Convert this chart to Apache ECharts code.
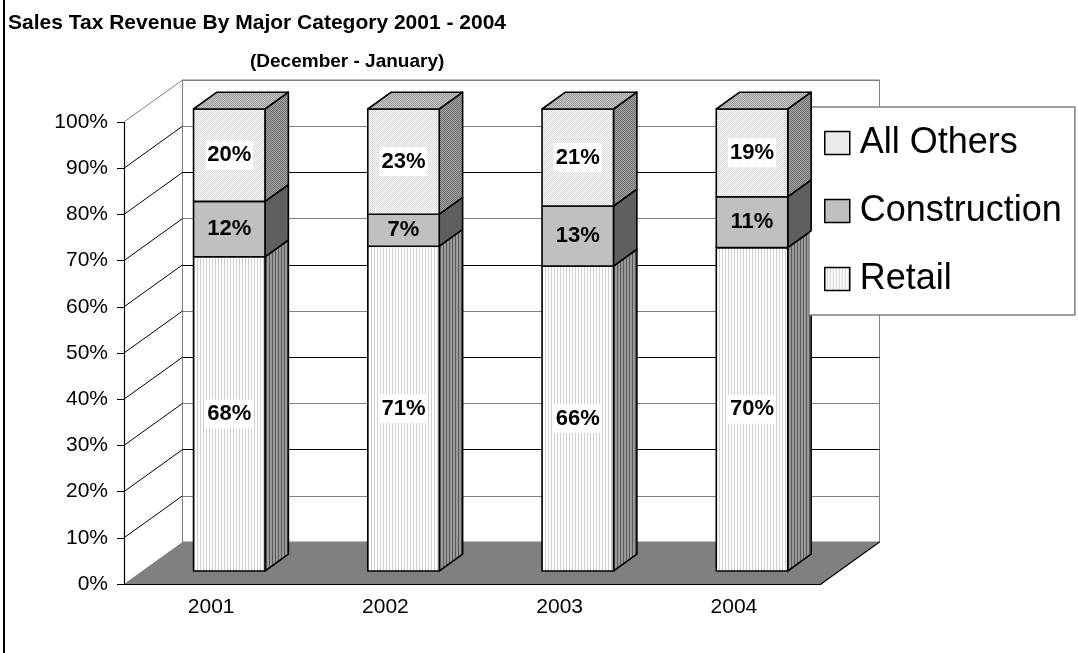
<!DOCTYPE html>
<html>
<head>
<meta charset="utf-8">
<script src="https://cdn.jsdelivr.net/npm/echarts@6.0.0/dist/echarts.min.js"></script>
<style>
html, body { margin: 0; background: #fff; }
#chart { width: 1078px; height: 653px; }
</style>
</head>
<body>
<div id="chart"></div>
<script>
// data
const years = ['2001', '2002', '2003', '2004'];
const retail = [68, 71, 66, 70];
const construction = [12, 7, 13, 11];
const allOthers = [20, 23, 21, 19];
const percentTicks = [0, 10, 20, 30, 40, 50, 60, 70, 80, 90, 100];

// 3d look: how far the back wall sits from the front plane, in px
const DEPTH = [58.5, -42];
const BAR_DEPTH = [0.31, 0.71];
const BAR_WIDTH = 0.41;
const FONT = 'Liberation Sans, Arial, sans-serif';

function pattern(w, h, bg, fg, cells) {
	const cv = document.createElement('canvas');
	cv.width = w;
	cv.height = h;
	const ctx = cv.getContext('2d');
	ctx.fillStyle = bg;
	ctx.fillRect(0, 0, w, h);
	ctx.fillStyle = fg;
	cells.forEach(function (c) { ctx.fillRect(c[0], c[1], c[2], c[3]); });
	return { image: cv, repeat: 'repeat' };
}
const stripes = (bg, fg) => pattern(3, 3, bg, fg, [[2, 0, 1, 3]]);
const dots = (bg, fg) => pattern(2, 2, bg, fg, [[0, 0, 1, 1], [1, 1, 1, 1]]);

const looks = [
	{ front: stripes('#ffffff', '#cfcfcf'), side: stripes('#999999', '#5a5a5a'), labelBg: '#fff' },
	{ front: '#c0c0c0', side: '#5f5f5f', labelBg: null },
	{ front: dots('#ffffff', '#d6d6d6'), side: dots('#a4a4a4', '#6e6e6e'), top: dots('#c8c8c8', '#9a9a9a'), labelBg: '#fff' }
];
const stacks = [retail, construction, allOthers];
const names = ['Retail', 'Construction', 'All Others'];

function barRender(k) {
	return function (params, api) {
		const i = params.dataIndex;
		const total = retail[i] + construction[i] + allOthers[i];
		let start = 0;
		for (let j = 0; j < k; j++) start += stacks[j][i];
		const lo = start / total * 100;
		const hi = (start + stacks[k][i]) / total * 100;
		const p0 = api.coord([i, lo]);
		const p1 = api.coord([i, hi]);
		const half = api.size([1, 0])[0] * BAR_WIDTH / 2;
		const fx = DEPTH[0] * BAR_DEPTH[0], fy = DEPTH[1] * BAR_DEPTH[0];
		const bx = DEPTH[0] * BAR_DEPTH[1], by = DEPTH[1] * BAR_DEPTH[1];
		const L = p0[0] - half + fx, R = p0[0] + half + fx;
		const yb = p0[1] + fy, yt = p1[1] + fy;
		const dx = bx - fx, dy = by - fy;
		const line = { stroke: '#000', lineWidth: 1.6, lineJoin: 'round' };
		const kids = [
			{ type: 'polygon', shape: { points: [[R, yt], [R + dx, yt + dy], [R + dx, yb + dy], [R, yb]] },
				style: Object.assign({ fill: looks[k].side }, line) },
			{ type: 'rect', shape: { x: L, y: yt, width: R - L, height: yb - yt },
				style: Object.assign({ fill: looks[k].front }, line) }
		];
		if (looks[k].top) {
			kids.push({ type: 'polygon', shape: { points: [[L, yt], [R, yt], [R + dx, yt + dy], [L + dx, yt + dy]] },
				style: Object.assign({ fill: looks[k].top }, line) });
		}
		kids.push({
			type: 'text', x: (L + R) / 2, y: (yt + yb) / 2, z2: 10,
			style: {
				text: stacks[k][i] + '%', fill: '#000', fontSize: 22, fontWeight: 'bold', fontFamily: FONT,
				align: 'center', verticalAlign: 'middle',
				backgroundColor: looks[k].labelBg || 'transparent', padding: [4, 2, 3, 2]
			}
		});
		return { type: 'group', children: kids };
	};
}

const chart = echarts.init(document.getElementById('chart'));

const series = [
	{
		// floor
		type: 'custom', name: 'floor', xAxisIndex: 0, yAxisIndex: 0, z: 1, silent: true,
		data: [[0, 0]],
		renderItem: function (params, api) {
			const cs = params.coordSys;
			const y0 = api.coord([0, 0])[1];
			const x0 = cs.x, x1 = cs.x + cs.width;
			return {
				type: 'group', children: [
					{ type: 'polygon', shape: { points: [[x0, y0], [x1, y0], [x1 + DEPTH[0], y0 + DEPTH[1]], [x0 + DEPTH[0], y0 + DEPTH[1]]] },
						style: { fill: '#808080' } },
					{ type: 'line', shape: { x1: x1, y1: y0, x2: x1 + DEPTH[0], y2: y0 + DEPTH[1] },
						style: { stroke: '#000', lineWidth: 1.2 } }
				]
			};
		}
	},
	{
		// side wall lines from the front ticks to the back wall
		type: 'custom', name: 'wall', xAxisIndex: 0, yAxisIndex: 0, z: 1, silent: true,
		data: percentTicks.filter(v => v > 0).map(v => [0, v]),
		renderItem: function (params, api) {
			const v = api.value(1);
			const x = params.coordSys.x;
			const y = api.coord([0, v])[1];
			return {
				type: 'line', shape: { x1: x, y1: y, x2: x + DEPTH[0], y2: y + DEPTH[1] },
				style: { stroke: v === 100 ? '#808080' : '#000', lineWidth: 1 }
			};
		}
	}
];
for (let k = 0; k < 3; k++) {
	series.push({
		type: 'custom', name: names[k], xAxisIndex: 0, yAxisIndex: 0, z: 3 + k,
		itemStyle: { color: looks[k].front, borderColor: '#000', borderWidth: 1.5 },
		data: stacks[k].map((v, i) => [i, v]),
		renderItem: barRender(k)
	});
}

chart.setOption({
	backgroundColor: '#fff',
	animation: false,
	title: [
		{
			text: 'Sales Tax Revenue By Major Category 2001 - 2004', left: 8, top: 11, padding: 0,
			textStyle: { fontSize: 21, fontWeight: 'bold', fontFamily: FONT, color: '#000', lineHeight: 24 }
		},
		{
			text: '(December - January)', left: 250, top: 51, padding: 0,
			textStyle: { fontSize: 19, fontWeight: 'bold', fontFamily: FONT, color: '#000', lineHeight: 22 }
		}
	],
	legend: {
		orient: 'vertical', left: 809, top: 107,
		padding: [18, 13, 18, 15], itemGap: 32, itemWidth: 25, itemHeight: 23,
		icon: 'rect',
		backgroundColor: '#fff', borderColor: '#808080', borderWidth: 1.5,
		data: ['All Others', 'Construction', 'Retail'],
		itemStyle: { borderColor: '#000', borderWidth: 1.5 },
		textStyle: { fontSize: 36, lineHeight: 36, fontFamily: FONT, color: '#000', padding: [0, 0, 0, 5] }
	},
	grid: [
		{ left: 124, top: 122, width: 697, height: 462 },
		{ left: 182.5, top: 80, width: 697, height: 462, show: true, borderColor: '#808080', borderWidth: 1, backgroundColor: 'transparent' }
	],
	xAxis: [
		{
			type: 'category', gridIndex: 0, data: years,
			axisLine: { lineStyle: { color: '#000', width: 1.2 } },
			axisTick: { length: 6, lineStyle: { color: '#000' } },
			axisLabel: { fontSize: 21, color: '#000', fontFamily: FONT, margin: 13 }
		},
		{ type: 'category', gridIndex: 1, data: years, show: false }
	],
	yAxis: [
		{
			type: 'value', gridIndex: 0, min: 0, max: 100, interval: 10,
			axisLine: { show: true, lineStyle: { color: '#000', width: 1.2 } },
			axisTick: { show: true, length: 7, lineStyle: { color: '#000' } },
			axisLabel: { formatter: '{value}%', fontSize: 21, color: '#000', fontFamily: FONT, margin: 16 },
			splitLine: { show: false }
		},
		{
			type: 'value', gridIndex: 1, min: 0, max: 100, interval: 10,
			axisLine: { show: false }, axisTick: { show: false }, axisLabel: { show: false },
			splitLine: { show: true, lineStyle: { width: 1, color: ['#000', '#808080', '#000', '#808080', '#000', '#808080', '#000', '#808080', '#000', '#808080', '#808080'] } }
		}
	],
	graphic: [
		{ type: 'rect', left: 3, top: 0, shape: { width: 2, height: 653 }, style: { fill: '#000' } }
	],
	series: series
});
</script>
</body>
</html>
